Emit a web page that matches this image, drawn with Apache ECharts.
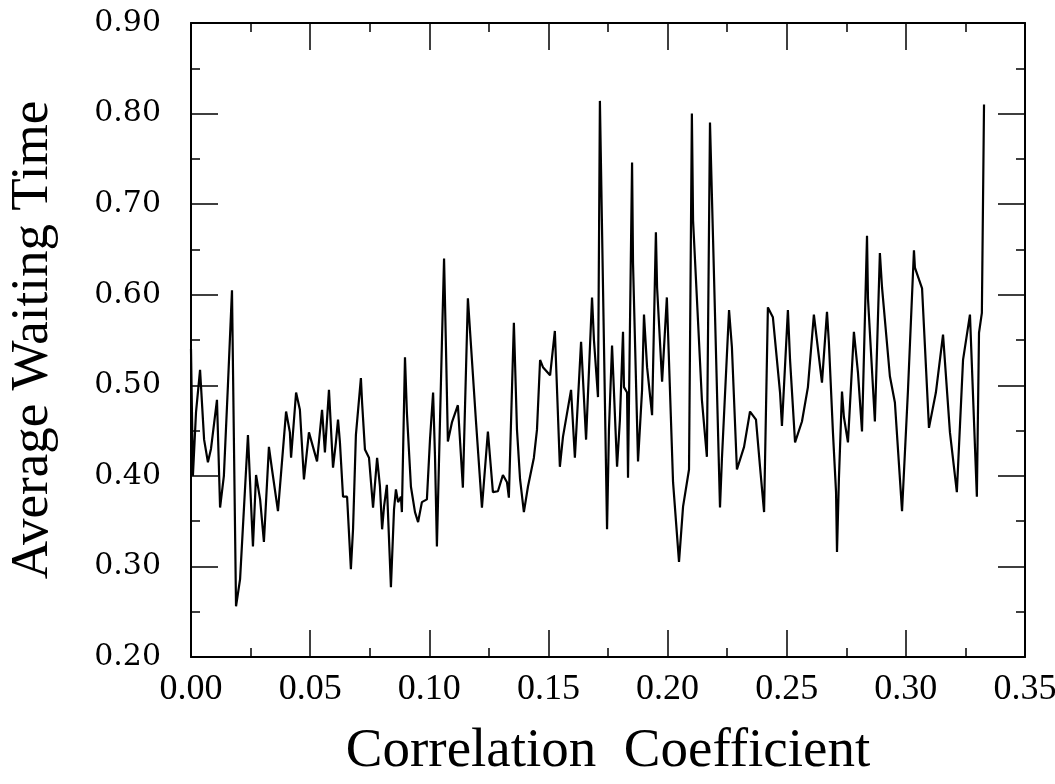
<!DOCTYPE html>
<html>
<head>
<meta charset="utf-8">
<script src="https://cdn.jsdelivr.net/npm/echarts@6/dist/echarts.min.js"></script>
<style>
  html, body { margin: 0; padding: 0; background: #fff; }
  #chart { width: 1055px; height: 784px; }
</style>
</head>
<body>
<div id="chart"></div>
<script>
// correlation coefficient (x) and average waiting time (y)
const corr = [
  0.0000, 0.0008, 0.0021, 0.0038, 0.0055, 0.0071, 0.0084, 0.0109, 0.0122, 0.0138,
  0.0155, 0.0172, 0.0189, 0.0206, 0.0239, 0.0260, 0.0273, 0.0290, 0.0306, 0.0327,
  0.0340, 0.0365, 0.0399, 0.0415, 0.0420, 0.0441, 0.0457, 0.0474, 0.0495, 0.0529,
  0.0550, 0.0562, 0.0579, 0.0596, 0.0608, 0.0617, 0.0625, 0.0638, 0.0655, 0.0671,
  0.0680, 0.0692, 0.0713, 0.0718, 0.0730, 0.0747, 0.0764, 0.0781, 0.0793, 0.0802,
  0.0810, 0.0822, 0.0839, 0.0852, 0.0860, 0.0869, 0.0881, 0.0885, 0.0898, 0.0906,
  0.0923, 0.0940, 0.0953, 0.0969, 0.0990, 0.1003, 0.1016, 0.1024, 0.1032, 0.1053,
  0.1062, 0.1070, 0.1078, 0.1095, 0.1120, 0.1141, 0.1146, 0.1162, 0.1196, 0.1221,
  0.1246, 0.1267, 0.1288, 0.1309, 0.1326, 0.1334, 0.1355, 0.1368, 0.1381, 0.1397,
  0.1414, 0.1439, 0.1452, 0.1465, 0.1477, 0.1507, 0.1527, 0.1548, 0.1561, 0.1595,
  0.1611, 0.1637, 0.1658, 0.1683, 0.1691, 0.1708, 0.1716, 0.1746, 0.1754, 0.1767,
  0.1788, 0.1800, 0.1813, 0.1817, 0.1830, 0.1834, 0.1851, 0.1855, 0.1876, 0.1893,
  0.1901, 0.1914, 0.1935, 0.1951, 0.1956, 0.1977, 0.1997, 0.2002, 0.2023, 0.2048,
  0.2065, 0.2090, 0.2102, 0.2107, 0.2144, 0.2165, 0.2178, 0.2191, 0.2220, 0.2228,
  0.2258, 0.2270, 0.2291, 0.2321, 0.2346, 0.2371, 0.2388, 0.2405, 0.2421, 0.2442,
  0.2472, 0.2480, 0.2505, 0.2514, 0.2535, 0.2564, 0.2589, 0.2614, 0.2648, 0.2669,
  0.2677, 0.2694, 0.2707, 0.2711, 0.2719, 0.2732, 0.2740, 0.2757, 0.2782, 0.2799,
  0.2816, 0.2837, 0.2841, 0.2870, 0.2891, 0.2900, 0.2933, 0.2954, 0.2984, 0.3009,
  0.3034, 0.3038, 0.3068, 0.3097, 0.3126, 0.3156, 0.3185, 0.3214, 0.3240, 0.3269,
  0.3298, 0.3307, 0.3319, 0.3328
]
const waitTime = [
  0.540, 0.400, 0.470, 0.517, 0.440, 0.415, 0.430, 0.484, 0.365, 0.400,
  0.500, 0.605, 0.256, 0.286, 0.445, 0.322, 0.401, 0.374, 0.327, 0.432,
  0.407, 0.361, 0.471, 0.448, 0.420, 0.492, 0.473, 0.396, 0.448, 0.416,
  0.473, 0.426, 0.495, 0.409, 0.437, 0.462, 0.437, 0.377, 0.377, 0.297,
  0.341, 0.445, 0.508, 0.481, 0.429, 0.420, 0.365, 0.420, 0.388, 0.341,
  0.366, 0.390, 0.277, 0.363, 0.385, 0.371, 0.377, 0.360, 0.531, 0.470,
  0.388, 0.360, 0.349, 0.371, 0.374, 0.440, 0.492, 0.421, 0.322, 0.547,
  0.640, 0.542, 0.438, 0.459, 0.478, 0.387, 0.437, 0.596, 0.460, 0.365,
  0.449, 0.382, 0.383, 0.401, 0.393, 0.376, 0.569, 0.451, 0.396, 0.360,
  0.388, 0.420, 0.451, 0.528, 0.520, 0.511, 0.560, 0.410, 0.443, 0.495,
  0.420, 0.548, 0.440, 0.597, 0.550, 0.487, 0.814, 0.341, 0.451, 0.544,
  0.410, 0.462, 0.559, 0.498, 0.492, 0.398, 0.746, 0.635, 0.416, 0.495,
  0.578, 0.520, 0.467, 0.669, 0.608, 0.504, 0.597, 0.558, 0.393, 0.305,
  0.366, 0.407, 0.800, 0.682, 0.484, 0.421, 0.790, 0.660, 0.365, 0.418,
  0.583, 0.542, 0.407, 0.432, 0.471, 0.462, 0.410, 0.360, 0.586, 0.575,
  0.492, 0.455, 0.583, 0.528, 0.437, 0.460, 0.498, 0.578, 0.503, 0.581,
  0.547, 0.448, 0.382, 0.316, 0.396, 0.493, 0.465, 0.437, 0.559, 0.514,
  0.449, 0.665, 0.596, 0.460, 0.646, 0.608, 0.510, 0.481, 0.361, 0.495,
  0.649, 0.630, 0.607, 0.453, 0.492, 0.556, 0.448, 0.382, 0.528, 0.578,
  0.377, 0.558, 0.580, 0.810
]

const serif = '"Liberation Serif", "DejaVu Serif", serif'
const wideSerif = '"DejaVu Serif", "Liberation Serif", serif'
const fmt = v => v.toFixed(2)

const points = corr.map((c, i) => [c, waitTime[i]])

const axisLine = { show: true, onZero: false, lineStyle: { color: '#000', width: 2 } }
const axisTick = { show: true, inside: true, length: 27, lineStyle: { color: '#000', width: 1.5 } }
const minorTick = { show: true, splitNumber: 2, length: 9, lineStyle: { color: '#000', width: 1.5 } }

const chart = echarts.init(document.getElementById('chart'))
chart.setOption({
  backgroundColor: '#fff',
  animation: false,
  grid: { left: 191, right: 30, top: 23, bottom: 127, outerBoundsMode: 'none', containLabel: false },
  xAxis: [
    {
      type: 'value', min: 0, max: 0.35, interval: 0.05,
      axisLine, axisTick, minorTick,
      splitLine: { show: false },
      axisLabel: { color: '#000', fontFamily: serif, fontSize: 36, margin: 15, formatter: fmt },
      name: 'Correlation  Coefficient',
      nameLocation: 'middle', nameGap: 67,
      nameTextStyle: { color: '#000', fontFamily: serif, fontSize: 55 }
    },
    {
      type: 'value', position: 'top', min: 0, max: 0.35, interval: 0.05,
      axisLine, axisTick, minorTick,
      splitLine: { show: false }, axisLabel: { show: false }
    }
  ],
  yAxis: [
    {
      type: 'value', min: 0.2, max: 0.9, interval: 0.1,
      axisLine, axisTick, minorTick,
      splitLine: { show: false },
      axisLabel: { color: '#000', fontFamily: wideSerif, fontSize: 30, margin: 30, formatter: fmt },
      name: 'Average Waiting Time',
      nameLocation: 'middle', nameGap: 131,
      nameTextStyle: { color: '#000', fontFamily: serif, fontSize: 53 }
    },
    {
      type: 'value', position: 'right', min: 0.2, max: 0.9, interval: 0.1,
      axisLine, axisTick, minorTick,
      splitLine: { show: false }, axisLabel: { show: false }
    }
  ],
  series: [
    {
      type: 'line',
      data: points,
      showSymbol: false,
      lineStyle: { color: '#000', width: 2.2 }
    }
  ]
})
</script>
</body>
</html>
